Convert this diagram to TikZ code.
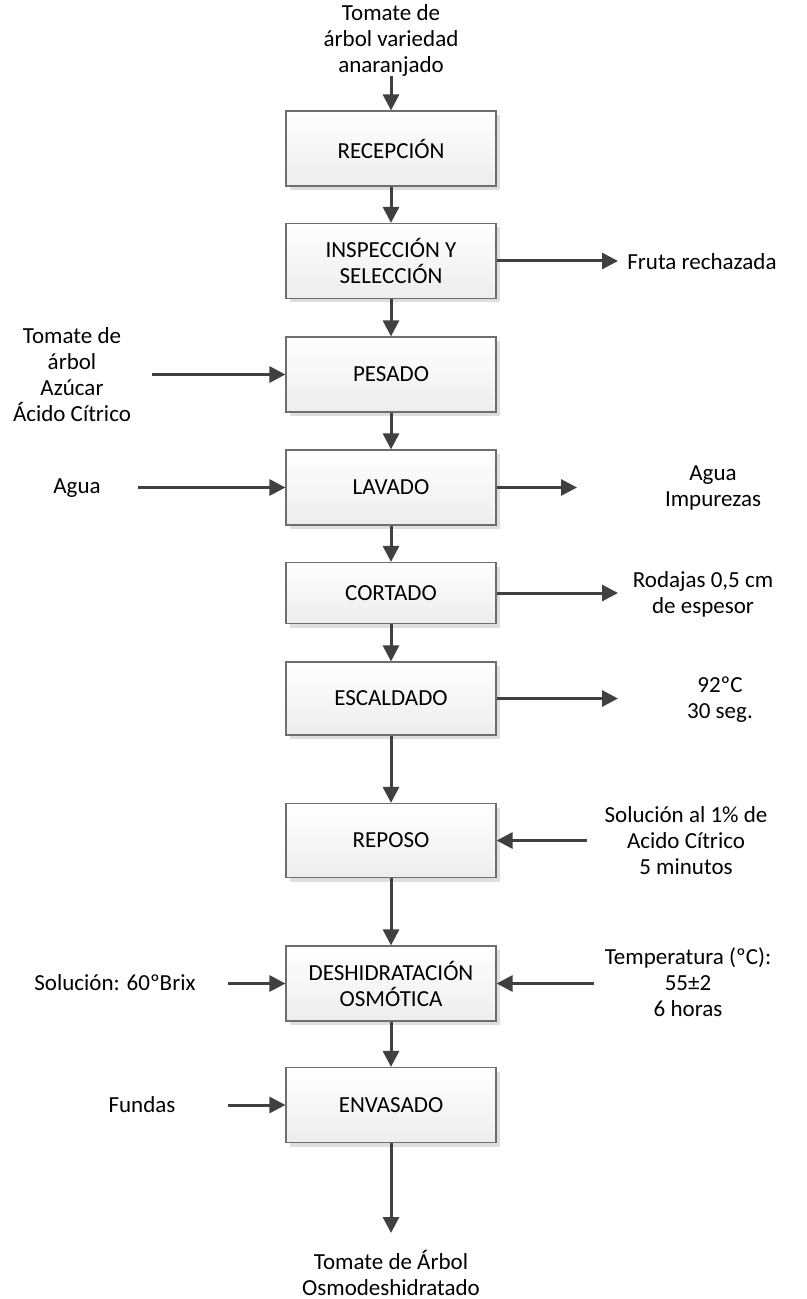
\documentclass[tikz,border=0pt]{standalone}
\usepackage{fontspec}
\setmainfont{Carlito}
\usetikzlibrary{arrows.meta,shadows}
\definecolor{arrowgray}{HTML}{404040}
\definecolor{boxedge}{HTML}{6E6E6E}
\definecolor{boxshadow}{HTML}{DEDEDE}
\begin{document}
\begin{tikzpicture}[x=0.5pt,y=-0.5pt,
  every node/.append style={font=\fontsize{11.5}{13}\selectfont},
  stage/.style={draw=boxedge, line width=0.6pt, minimum width=105pt,
    minimum height=37.5pt, top color=white, bottom color=gray!14,
    drop shadow={shadow xshift=2pt, shadow yshift=-2pt, fill=boxshadow, opacity=1},
    align=center, inner sep=0pt},
  note/.style={align=center, inner sep=0pt},
  flow/.style={draw=arrowgray, line width=1.5pt, -{Triangle[length=8pt,width=8pt]}}]
\useasboundingbox (0,0) rectangle (807,1299);

% main process column
\node[note] (src) at (391,40) {Tomate de\\árbol variedad\\anaranjado};
\node[stage] (rec) at (391,148.5) {RECEPCIÓN};
\node[stage] (ins) at (391,261) {INSPECCIÓN Y\\SELECCIÓN};
\node[stage] (pes) at (391,374.5) {PESADO};
\node[stage] (lav) at (391,487.5) {LAVADO};
\node[stage, minimum height=30.5pt] (cor) at (391,593) {CORTADO};
\node[stage, minimum height=36.5pt] (esc) at (391,698.5) {ESCALDADO};
\node[stage, minimum height=37pt] (rep) at (391,840.5) {REPOSO};
\node[stage] (des) at (391,983.5) {DESHIDRATACIÓN\\OSMÓTICA};
\node[stage] (env) at (391,1105) {ENVASADO};
\node[note] (prod) at (391,1273) {Tomate de Árbol\\Osmodeshidratado};

% side inputs and outputs
\node[note, anchor=west] (rej) at (627,262) {Fruta rechazada};
\node[note] (ing) at (72,375) {Tomate de\\árbol\\Azúcar\\Ácido Cítrico};
\node[note] (agua) at (77,488) {Agua};
\node[note] (imp) at (713,488) {Agua\\Impurezas};
\node[note] (rod) at (703,594) {Rodajas 0,5 cm\\de espesor};
\node[note] (blanch) at (720,700) {92ºC\\30 seg.};
\node[note] (acid) at (686,841) {Solución al 1\% de\\Acido Cítrico\\5 minutos};
\node[note] (brix) at (115,983) {Solución: 60ºBrix};
\node[note] (cond) at (688,982) {Temperatura (ºC):\\55±2\\6 horas};
\node[note] (fun) at (142,1105) {Fundas};

% free ends of the side connectors
\coordinate (rejtip) at (618,261);
\coordinate (ingstart) at (152,374.5);
\coordinate (aguastart) at (138,487.5);
\coordinate (imptip) at (577,487.5);
\coordinate (rodtip) at (618,593);
\coordinate (blanchtip) at (618,698.5);
\coordinate (acidstart) at (587,840.5);
\coordinate (brixstart) at (228,983.5);
\coordinate (condstart) at (594,983.5);
\coordinate (funstart) at (228,1105);
\coordinate (prodtip) at (391,1233);

% vertical flow
\draw[flow] (src.south) -- (rec.north);
\draw[flow] (rec.south) -- (ins.north);
\draw[flow] (ins.south) -- (pes.north);
\draw[flow] (pes.south) -- (lav.north);
\draw[flow] (lav.south) -- (cor.north);
\draw[flow] (cor.south) -- (esc.north);
\draw[flow] (esc.south) -- (rep.north);
\draw[flow] (rep.south) -- (des.north);
\draw[flow] (des.south) -- (env.north);
\draw[flow] (env.south) -- (prodtip);

% side flows
\draw[flow] (ins.east) -- (rejtip);
\draw[flow] (ingstart) -- (pes.west);
\draw[flow] (aguastart) -- (lav.west);
\draw[flow] (lav.east) -- (imptip);
\draw[flow] (cor.east) -- (rodtip);
\draw[flow] (esc.east) -- (blanchtip);
\draw[flow] (acidstart) -- (rep.east);
\draw[flow] (brixstart) -- (des.west);
\draw[flow] (condstart) -- (des.east);
\draw[flow] (funstart) -- (env.west);
\end{tikzpicture}
\end{document}
